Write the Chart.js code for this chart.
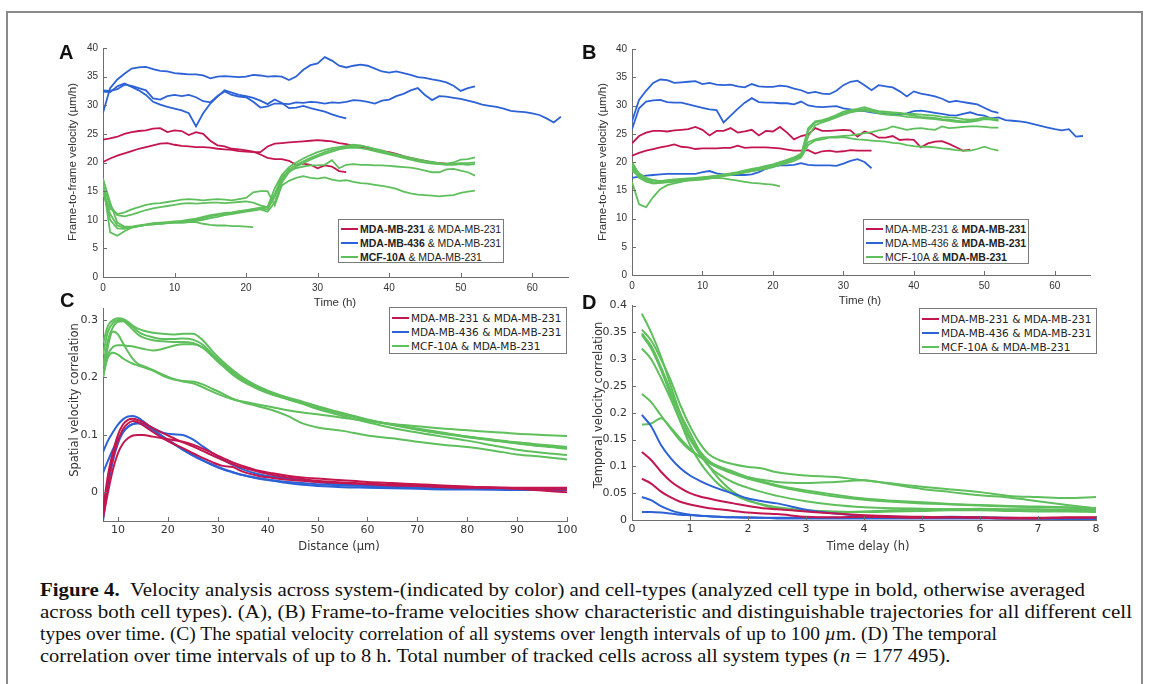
<!DOCTYPE html>
<html><head><meta charset="utf-8">
<script src="https://cdn.jsdelivr.net/npm/chart.js@4/dist/chart.umd.min.js"></script>
<style>
html,body{margin:0;padding:0;background:#fff}
body{width:1149px;height:684px;overflow:hidden;position:relative;font-family:"Liberation Sans",Arial,sans-serif;color:#222}
.frame{position:absolute;left:6px;top:11px;width:1133px;height:700px;border:2px solid #8a8a8a}
canvas{position:absolute}
.abs{position:absolute;white-space:nowrap}
.letter{font:bold 20px/20px "Liberation Sans",Arial,sans-serif;color:#111}
.yt{position:absolute;white-space:nowrap;transform:translate(-50%,-50%) rotate(-90deg)}
.xt{position:absolute;white-space:nowrap;transform:translate(-50%,-50%)}
.ab{font:11.5px "Liberation Sans",Arial,sans-serif;color:#333}
.cd{font:11.5px "DejaVu Sans",sans-serif;color:#333}
.leg{position:absolute;border:1px solid #7a7a7a;background:#fff;box-sizing:border-box}
.leg .row{position:absolute;left:0;white-space:nowrap;display:flex;align-items:center}
.leg .sw{display:inline-block;height:2px;margin-right:2px}
.cap{position:absolute;left:40px;white-space:nowrap;font:19px/22px "Liberation Serif","Times New Roman",serif;color:#111;transform-origin:0 50%}
</style></head>
<body>
<div class="frame"></div>

<canvas id="cA"></canvas><canvas id="cB"></canvas><canvas id="cC"></canvas><canvas id="cD"></canvas>

<div class="abs letter" style="left:59px;top:42px">A</div>
<div class="abs letter" style="left:582px;top:42px">B</div>
<div class="abs letter" style="left:60px;top:290px">C</div>
<div class="abs letter" style="left:582px;top:292px">D</div>

<div class="yt ab" style="left:72px;top:162px">Frame-to-frame velocity (µm/h)</div>
<div class="xt ab" style="left:335px;top:302px">Time (h)</div>
<div class="yt ab" style="left:602px;top:162px">Frame-to-frame velocity (µm/h)</div>
<div class="xt ab" style="left:860px;top:300px">Time (h)</div>
<div class="yt cd" style="left:74px;top:400px">Spatial velocity correlation</div>
<div class="xt cd" style="left:339px;top:546px">Distance (µm)</div>
<div class="yt cd" style="left:598px;top:405px">Temporal velocity correlation</div>
<div class="xt cd" style="left:868px;top:546px">Time delay (h)</div>

<div class="leg" style="left:338px;top:219px;width:166px;height:44px;font:10.5px 'Liberation Sans',Arial,sans-serif;color:#222">
 <div class="row" style="top:3px;left:2px"><span class="sw" style="width:17px;background:#c4164e"></span><b>MDA-MB-231</b>&nbsp;&amp; MDA-MB-231</div>
 <div class="row" style="top:17px;left:2px"><span class="sw" style="width:17px;background:#2c62d6"></span><b>MDA-MB-436</b>&nbsp;&amp; MDA-MB-231</div>
 <div class="row" style="top:31px;left:2px"><span class="sw" style="width:17px;background:#5fbf5c"></span><b>MCF-10A</b>&nbsp;&amp; MDA-MB-231</div>
</div>
<div class="leg" style="left:863px;top:219px;width:166px;height:45px;font:10.5px 'Liberation Sans',Arial,sans-serif;color:#222">
 <div class="row" style="top:3px;left:2px"><span class="sw" style="width:17px;background:#c4164e"></span>MDA-MB-231 &amp;&nbsp;<b>MDA-MB-231</b></div>
 <div class="row" style="top:17px;left:2px"><span class="sw" style="width:17px;background:#2c62d6"></span>MDA-MB-436 &amp;&nbsp;<b>MDA-MB-231</b></div>
 <div class="row" style="top:31px;left:2px"><span class="sw" style="width:17px;background:#5fbf5c"></span>MCF-10A &amp;&nbsp;<b>MDA-MB-231</b></div>
</div>
<div class="leg" style="left:389px;top:307px;width:178px;height:47px;font:10.5px 'DejaVu Sans',sans-serif;color:#222">
 <div class="row" style="top:4px;left:2px"><span class="sw" style="width:17px;background:#c4164e"></span>MDA-MB-231 &amp; MDA-MB-231</div>
 <div class="row" style="top:18px;left:2px"><span class="sw" style="width:17px;background:#2c62d6"></span>MDA-MB-436 &amp; MDA-MB-231</div>
 <div class="row" style="top:32px;left:2px"><span class="sw" style="width:17px;background:#5fbf5c"></span>MCF-10A &amp; MDA-MB-231</div>
</div>
<div class="leg" style="left:919px;top:308px;width:178px;height:46px;font:10.5px 'DejaVu Sans',sans-serif;color:#222">
 <div class="row" style="top:4px;left:2px"><span class="sw" style="width:17px;background:#c4164e"></span>MDA-MB-231 &amp; MDA-MB-231</div>
 <div class="row" style="top:18px;left:2px"><span class="sw" style="width:17px;background:#2c62d6"></span>MDA-MB-436 &amp; MDA-MB-231</div>
 <div class="row" style="top:32px;left:2px"><span class="sw" style="width:17px;background:#5fbf5c"></span>MCF-10A &amp; MDA-MB-231</div>
</div>

<div class="cap" data-w="1045" style="top:579px"><b>Figure 4.</b>&nbsp;&nbsp;Velocity analysis across system-(indicated by color) and cell-types (analyzed cell type in bold, otherwise averaged</div>
<div class="cap" data-w="1092" style="top:601px">across both cell types). (A), (B) Frame-to-frame velocities show characteristic and distinguishable trajectories for all different cell</div>
<div class="cap" data-w="957" style="top:623px">types over time. (C) The spatial velocity correlation of all systems over length intervals of up to 100 <i>µ</i>m. (D) The temporal</div>
<div class="cap" style="top:645px">correlation over time intervals of up to 8 h. Total number of tracked cells across all system types (<i>n</i> = 177 495).</div>

<script>
// ---------- DATA ----------
const hours = Array.from({length: 65}, (_, i) => i); // sampling grid (h)

// Panel A (analysed cell type in bold; values at whole hours)
const redA1 = [24.0,24.2,24.5,25.0,25.3,25.5,25.6,25.9,26.0,25.3,25.6,25.5,24.8,25.3,25.0,23.8,23.0,22.8,22.4,22.3,22.1,21.9,21.4,20.8,20.6,20.6,20.3,19.6,19.8,19.6,19.0,19.5,19.3,18.5,18.3];
const redA2 = [20.1,20.7,21.2,21.6,22.0,22.4,22.7,23.0,23.3,23.4,23.1,22.9,22.8,22.7,22.7,22.6,22.4,22.3,22.2,22.0,21.9,21.8,21.8,22.8,23.3,23.4,23.5,23.6,23.7,23.8,23.9,23.8,23.7,23.4,23.2,22.9,22.7,22.5,22.2,22.0,21.8,21.5,21.1,20.8,20.5,20.3,20.0,19.9,19.8];
const blueA1 = [28.7,33.0,34.5,35.5,36.4,36.6,36.7,36.3,36.0,35.9,35.6,35.5,35.4,35.4,35.2,34.7,35.0,35.1,35.0,34.9,35.0,35.3,35.2,35.0,35.1,35.0,34.4,35.0,36.2,37.0,37.3,38.4,37.8,36.9,36.6,36.9,37.1,36.9,36.4,35.9,35.7,35.9,35.6,35.3,34.9,34.8,34.5,34.3,34.0,33.4,32.5,33.0,33.3];
const blueA2 = [32.6,32.5,32.8,33.6,33.4,33.0,32.6,31.2,31.0,31.6,31.8,31.6,31.8,31.4,30.7,30.5,31.6,32.4,31.8,31.5,31.4,30.6,29.6,29.8,30.3,30.3,30.2,30.5,30.4,30.6,30.5,30.3,30.5,30.4,30.6,30.9,30.8,30.6,30.3,30.8,31.0,31.6,32.0,32.6,33.0,31.8,30.9,31.6,31.5,31.3,31.1,30.8,30.5,30.1,29.9,29.7,29.4,29.0,28.9,28.8,28.6,28.3,27.7,27.0,28.0];
const blueA3 = [32.4,32.3,33.3,33.8,33.2,32.6,31.8,30.6,30.1,29.7,29.4,29.1,28.6,26.3,28.6,30.3,31.5,32.6,32.2,31.8,31.6,31.3,30.8,30.2,31.0,30.4,29.5,29.6,29.9,29.5,29.2,28.9,28.4,28.0,27.7];
const greenA1 = [15.5,11.0,9.0,8.6,8.7,8.9,9.1,9.2,9.3,9.4,9.5,9.5,9.6,9.6,9.3,9.1,9.0,9.0,8.9,8.9,8.8,8.7];
const greenA2 = [14.5,12.0,11.0,11.3,11.8,12.2,12.6,12.8,12.9,13.1,13.3,13.5,13.6,13.5,13.4,13.5,13.6,13.5,13.4,13.6,13.8,14.8,15.0,15.0,12.5,16.0,16.8,17.3,17.6,17.3,17.2,17.4,17.0,16.8,16.9,16.6,16.4,16.3,16.1,15.9,15.7,15.4,14.9,14.6,14.4,14.3,14.2,14.1,14.2,14.3,14.7,14.9,15.1];
const greenA3 = [16.0,12.5,10.8,10.6,10.9,11.3,11.7,12.0,12.2,12.4,12.6,12.8,12.9,12.8,12.9,13.0,13.0,12.9,13.0,13.1,13.2,13.0,12.5,12.2,14.5,17.5,18.5,19.0,19.3,19.5,19.5,19.6,20.4,19.0,19.6,19.7,19.6,19.6,19.5,19.5,19.4,19.3,19.2,19.1,18.9,18.6,18.3,18.3,18.8,18.9,18.6,18.3,17.7];
const greenA4 = [17.2,13.0,9.5,8.8,8.8,9.0,9.2,9.4,9.5,9.6,9.7,9.8,10.0,10.2,10.5,10.8,11.0,11.2,11.3,11.5,11.7,11.9,12.1,12.2,15.5,17.8,19.2,20.0,20.7,21.3,21.8,22.2,22.5,22.7,22.9,23.1,23.0,22.7,22.4,22.1,21.7,21.4,21.1,20.8,20.6,20.3,20.1,19.9,19.8,20.0,20.5,20.6,20.9];
const greenA5 = [15.0,10.0,8.5,8.4,8.7,8.9,9.1,9.3,9.4,9.5,9.6,9.7,9.8,10.0,10.3,10.6,10.8,11.0,11.2,11.4,11.6,11.8,12.0,11.8,14.0,17.0,18.8,19.6,20.2,20.8,21.3,21.8,22.2,22.5,22.7,22.8,22.9,22.7,22.3,21.9,21.6,21.3,20.9,20.6,20.3,20.1,19.9,19.8,19.7,19.8,19.9,19.9,20.0];
const greenA6 = [16.5,7.8,7.2,8.0,8.6,8.9,9.1,9.2,9.3,9.4,9.5,9.5,9.6,9.8,10.0,10.3,10.5,10.8,11.0,11.2,11.4,11.6,11.8,11.4,13.0,16.5,18.3,19.3,19.9,20.5,21.0,21.5,21.9,22.3,22.5,22.6,22.5,22.3,22.0,21.7,21.4,21.1,20.8,20.5,20.2,20.0,19.8,19.7,19.6,19.6,19.7,19.6,19.7];

// Panel B (MDA-MB-231 analysed)
const redB1 = [23.3,24.6,25.2,25.5,25.5,25.4,25.6,25.7,25.8,26.2,25.7,24.7,25.5,25.5,26.0,25.2,25.4,25.7,24.7,25.5,25.4,26.2,25.2,24.0,24.6,24.9,26.0,25.5,25.5,25.6,25.7,25.6,24.5,25.4,25.0,24.3,24.3,24.6,23.9,24.0,23.9,22.6,23.3,23.6,23.7,23.2,22.6,22.0,22.2];
const redB2 = [21.1,21.6,22.0,22.3,22.6,22.8,23.1,22.7,22.6,22.3,22.4,22.4,22.4,22.5,22.5,22.9,22.5,22.6,22.6,22.6,22.5,22.4,22.2,22.0,22.0,22.1,21.5,21.9,22.0,21.8,21.9,22.1,22.0,22.0,22.0];
const blueB1 = [27.2,31.0,32.6,34.0,34.6,34.5,34.0,34.1,34.2,34.3,33.8,34.0,33.7,33.6,33.7,33.4,33.2,33.8,33.4,33.3,33.3,33.5,33.4,33.0,32.7,32.2,32.4,32.1,32.0,32.6,33.6,34.2,34.4,33.6,32.7,33.6,33.4,33.2,32.5,31.6,32.5,32.1,31.9,31.6,31.2,30.6,30.8,30.6,30.4,30.2,29.6,29.0,28.7];
const blueB2 = [25.8,29.5,30.7,30.9,31.0,30.6,30.5,30.5,30.2,29.9,29.6,29.3,29.2,27.0,28.2,29.4,30.5,31.3,30.6,30.5,30.5,30.4,30.4,30.2,30.7,30.0,29.8,29.7,29.8,29.9,29.5,29.3,29.1,29.0,28.8,28.6,28.5,28.4,28.4,28.6,29.0,29.1,28.9,28.7,28.5,28.3,28.2,28.5,28.8,28.4,28.2,27.7,27.9,27.4,27.3,27.2,27.0,26.7,26.4,26.1,25.8,25.6,25.8,24.5,24.6];
const blueB3 = [17.2,17.4,17.6,17.7,17.8,17.9,17.9,17.9,17.9,17.9,18.2,18.4,18.0,17.8,17.7,17.7,17.7,17.8,18.2,18.8,19.2,19.4,19.4,19.5,19.8,19.5,19.4,19.4,19.4,19.3,19.7,20.2,20.5,20.0,18.9];
const greenB1 = [19.2,17.8,17.0,16.8,16.6,16.5,16.6,16.7,16.8,16.9,17.0,17.1,17.2,17.1,16.9,16.7,16.5,16.3,16.2,16.1,16.0,15.7];
const greenB2 = [16.5,12.5,12.0,13.8,15.2,15.9,16.2,16.5,16.8,17.0,17.2,17.4,17.6,17.8,18.0,18.2,18.5,18.8,19.0,19.3,19.6,20.0,20.4,20.8,21.3,26.0,27.2,27.4,27.8,28.3,28.9,29.2,29.4,29.7,29.3,29.0,28.9,28.8,28.7,28.5,28.5,28.4,28.3,28.2,28.0,27.9,27.8,27.6,27.5,27.6,27.8,27.6,27.4];
const greenB3 = [19.5,18.0,17.2,16.8,16.6,16.7,16.8,16.9,16.9,17.0,17.0,17.2,17.4,17.6,17.8,18.0,18.3,18.6,18.8,19.1,19.4,19.8,20.2,20.6,21.2,25.5,27.0,27.3,27.6,28.1,28.6,29.0,29.2,29.4,29.1,28.9,28.7,28.6,28.6,28.4,28.2,28.0,27.9,27.8,27.6,27.5,27.3,27.2,27.3,27.6,27.9,27.7,27.5];
const greenB4 = [18.5,17.5,16.8,16.4,16.3,16.4,16.5,16.6,16.7,16.8,16.9,17.1,17.3,17.5,17.7,17.9,18.1,18.4,18.6,18.9,19.2,19.6,20.0,20.5,21.0,24.5,26.5,27.0,27.4,27.9,28.4,28.8,29.0,29.1,28.9,28.6,28.4,28.3,28.2,28.0,27.9,27.8,27.7,27.6,27.4,27.3,27.1,27.0,27.1,27.3,27.6,27.5,27.3];
const greenB5 = [19.0,17.2,16.5,16.2,16.3,16.5,16.6,16.7,16.8,16.9,17.1,17.3,17.5,17.7,17.9,18.1,18.4,18.7,18.9,19.2,19.5,19.9,20.3,20.8,21.5,23.5,24.0,24.3,24.4,24.5,24.6,24.7,24.9,25.1,25.3,25.6,25.8,26.3,26.0,25.7,25.9,26.0,25.8,25.7,26.3,26.0,26.1,26.2,26.3,26.3,26.2,26.1,26.1];
const greenB6 = [20.0,17.8,17.0,16.7,16.6,16.8,16.9,17.0,17.1,17.2,17.3,17.4,17.5,17.6,17.8,18.0,18.2,18.4,18.6,18.8,19.1,19.5,19.8,20.2,20.8,23.0,23.8,24.0,24.3,24.3,24.4,24.2,24.0,23.9,23.8,23.7,23.6,23.4,23.3,23.0,22.8,22.7,22.7,22.6,22.4,22.3,22.1,22.0,22.0,22.3,22.7,22.3,22.0];

// Panel C (distance in µm)
const distC = [7,8,9,10,11,12,13,14,15,17,19,21,23,25,27,29,31,33,35,38,41,44,47,50,55,60,65,70,75,80,85,90,95,100];
const greenC1 = [0.26,0.29,0.3,0.303,0.302,0.297,0.29,0.285,0.282,0.278,0.276,0.275,0.276,0.276,0.265,0.245,0.228,0.213,0.2,0.185,0.174,0.165,0.158,0.15,0.138,0.127,0.118,0.111,0.104,0.097,0.092,0.087,0.083,0.079];
const greenC2 = [0.24,0.28,0.295,0.3,0.3,0.295,0.288,0.28,0.275,0.27,0.267,0.267,0.268,0.266,0.257,0.24,0.224,0.21,0.198,0.183,0.172,0.163,0.155,0.147,0.136,0.126,0.117,0.109,0.102,0.096,0.09,0.085,0.08,0.076];
const greenC3 = [0.22,0.265,0.288,0.297,0.298,0.292,0.283,0.275,0.27,0.265,0.263,0.262,0.262,0.26,0.252,0.236,0.22,0.205,0.193,0.18,0.17,0.162,0.154,0.145,0.133,0.122,0.112,0.104,0.097,0.09,0.082,0.074,0.069,0.065];
const greenC4 = [0.2,0.24,0.253,0.256,0.256,0.255,0.254,0.252,0.25,0.247,0.25,0.255,0.258,0.258,0.252,0.237,0.222,0.208,0.196,0.182,0.171,0.163,0.156,0.148,0.137,0.126,0.118,0.11,0.103,0.097,0.091,0.086,0.081,0.077];
const greenC5 = [0.2,0.255,0.28,0.275,0.26,0.245,0.232,0.224,0.22,0.213,0.205,0.198,0.193,0.19,0.183,0.175,0.168,0.162,0.158,0.153,0.148,0.143,0.139,0.136,0.13,0.124,0.119,0.115,0.111,0.108,0.105,0.102,0.1,0.098];
const greenC6 = [0.205,0.235,0.243,0.24,0.233,0.228,0.224,0.221,0.218,0.212,0.203,0.197,0.194,0.193,0.188,0.18,0.172,0.163,0.157,0.15,0.143,0.133,0.12,0.113,0.107,0.099,0.094,0.088,0.083,0.079,0.073,0.066,0.062,0.057];
const redC1 = [-0.03,0.03,0.07,0.1,0.118,0.126,0.128,0.126,0.122,0.112,0.103,0.095,0.087,0.08,0.072,0.064,0.056,0.049,0.043,0.036,0.03,0.026,0.023,0.02,0.017,0.015,0.013,0.012,0.01,0.009,0.009,0.008,0.008,0.008];
const redC2 = [-0.045,0.0,0.04,0.068,0.085,0.094,0.099,0.1,0.1,0.097,0.094,0.091,0.088,0.083,0.076,0.068,0.06,0.052,0.046,0.038,0.033,0.029,0.026,0.024,0.021,0.018,0.016,0.014,0.012,0.01,0.008,0.006,0.003,0.0];
const redC3 = [-0.04,0.02,0.06,0.09,0.11,0.12,0.124,0.122,0.117,0.105,0.094,0.085,0.077,0.068,0.06,0.052,0.046,0.044,0.036,0.029,0.025,0.022,0.02,0.018,0.016,0.014,0.012,0.011,0.009,0.008,0.008,0.007,0.006,0.005];
const blueC1 = [0.07,0.09,0.105,0.118,0.127,0.132,0.133,0.13,0.124,0.11,0.097,0.085,0.074,0.064,0.055,0.047,0.04,0.035,0.03,0.025,0.021,0.018,0.016,0.014,0.012,0.011,0.01,0.009,0.008,0.007,0.007,0.006,0.006,0.006];
const blueC2 = [0.034,0.055,0.075,0.092,0.105,0.114,0.119,0.121,0.12,0.112,0.104,0.101,0.1,0.092,0.08,0.068,0.057,0.048,0.04,0.032,0.027,0.024,0.021,0.018,0.014,0.011,0.009,0.008,0.007,0.006,0.005,0.004,0.004,0.004];
const blueC3 = [-0.05,0.01,0.055,0.085,0.104,0.114,0.119,0.12,0.118,0.108,0.097,0.086,0.075,0.065,0.056,0.048,0.041,0.035,0.03,0.024,0.02,0.016,0.013,0.011,0.009,0.008,0.007,0.006,0.005,0.005,0.005,0.005,0.005,0.005];

// Panel D (time delay in h)
const timeD = [0.17,0.33,0.5,0.67,0.83,1,1.17,1.33,1.5,1.75,2,2.25,2.5,3,3.5,4,4.5,5,5.5,6,6.5,7,7.5,8];
const greenD1 = [0.385,0.35,0.305,0.25,0.2,0.163,0.128,0.1,0.077,0.052,0.037,0.028,0.022,0.017,0.015,0.016,0.018,0.02,0.02,0.021,0.02,0.02,0.019,0.018];
const greenD2 = [0.355,0.335,0.3,0.26,0.215,0.175,0.143,0.122,0.112,0.104,0.099,0.096,0.089,0.083,0.08,0.074,0.068,0.062,0.057,0.052,0.045,0.043,0.041,0.043];
const greenD3 = [0.348,0.325,0.285,0.24,0.195,0.155,0.128,0.11,0.098,0.087,0.08,0.075,0.071,0.069,0.071,0.074,0.066,0.058,0.052,0.046,0.042,0.035,0.028,0.022];
const greenD4 = [0.345,0.32,0.28,0.232,0.185,0.14,0.108,0.085,0.066,0.048,0.036,0.029,0.024,0.018,0.016,0.015,0.016,0.017,0.018,0.018,0.017,0.016,0.016,0.015];
const greenD5 = [0.32,0.3,0.265,0.225,0.185,0.15,0.122,0.1,0.085,0.07,0.06,0.052,0.045,0.035,0.028,0.024,0.022,0.021,0.02,0.02,0.019,0.019,0.018,0.018];
const greenD6 = [0.235,0.22,0.195,0.17,0.148,0.13,0.118,0.108,0.1,0.09,0.08,0.072,0.065,0.055,0.047,0.04,0.036,0.033,0.03,0.028,0.026,0.025,0.024,0.022];
const greenD7 = [0.178,0.18,0.19,0.172,0.152,0.133,0.118,0.106,0.097,0.086,0.077,0.07,0.063,0.052,0.044,0.038,0.034,0.031,0.029,0.027,0.025,0.024,0.023,0.021];
const redD1 = [0.127,0.112,0.09,0.072,0.06,0.05,0.044,0.04,0.036,0.031,0.026,0.022,0.02,0.016,0.012,0.009,0.007,0.006,0.005,0.005,0.004,0.004,0.005,0.005];
const redD2 = [0.077,0.068,0.053,0.042,0.034,0.029,0.025,0.022,0.02,0.017,0.014,0.012,0.011,0.006,0.005,0.006,0.005,0.004,0.005,0.004,0.003,0.003,0.004,0.004];
const blueD1 = [0.196,0.175,0.14,0.115,0.097,0.083,0.073,0.065,0.058,0.049,0.04,0.035,0.031,0.019,0.012,0.008,0.006,0.005,0.005,0.004,0.003,0.003,0.003,0.003];
const blueD2 = [0.043,0.037,0.026,0.018,0.013,0.01,0.008,0.007,0.006,0.005,0.005,0.004,0.004,0.004,0.004,0.004,0.004,0.005,0.006,0.005,0.004,0.003,0.003,0.003];
const blueD3 = [0.015,0.015,0.014,0.012,0.01,0.009,0.008,0.007,0.006,0.005,0.004,0.004,0.003,0.003,0.003,0.003,0.003,0.003,0.003,0.003,0.003,0.003,0.002,0.002];

// Tick values
const ticksTime = [0,10,20,30,40,50,60];
const ticksVel = [0,5,10,15,20,25,30,35,40];
const ticksDist = [10,20,30,40,50,60,70,80,90,100];
const ticksSpatial = [0,0.1,0.2,0.3];
const ticksDelay = [0,1,2,3,4,5,6,7,8];
const ticksTemporal = [0,0.05,0.1,0.15,0.2,0.25,0.3,0.35,0.4];

// ---------- RENDER ----------
const RED = '#c4164e', BLUE = '#2c62d6', GREEN = '#5fbf5c';
const AXIS = '#6e6e6e', TICK = '#333';

function pts(xs, ys) { return ys.map((y, i) => ({x: xs[i], y: y})); }
function line(xs, ys, color, w, smooth) {
  return {data: pts(xs, ys), borderColor: color, borderWidth: w, pointRadius: 0, fill: false,
          tension: smooth ? 0.4 : 0, cubicInterpolationMode: smooth ? 'monotone' : 'default'};
}

const insideTicks = {
  id: 'insideTicks',
  afterDraw(chart) {
    const {ctx, chartArea: a, scales: {x, y}} = chart;
    ctx.save(); ctx.strokeStyle = AXIS; ctx.lineWidth = 1; ctx.beginPath();
    x.ticks.forEach(t => { const px = Math.round(x.getPixelForValue(t.value)) + 0.5; ctx.moveTo(px, a.bottom); ctx.lineTo(px, a.bottom - 4); });
    y.ticks.forEach(t => { const py = Math.round(y.getPixelForValue(t.value)) + 0.5; ctx.moveTo(a.left, py); ctx.lineTo(a.left + 4, py); });
    ctx.stroke(); ctx.restore();
  }
};

function fmt(v) { return String(Math.round(v * 1000) / 1000); }

function makePanel(id, area, xr, yr, xt, yt, datasets, font, xpad) {
  const W = 50, H = 26, PT = 10, PR = 18;
  const cv = document.getElementById(id);
  const w = Math.round(area.r - area.l) + W + PR, h = Math.round(area.b - area.t) + H + PT;
  cv.width = w; cv.height = h;
  cv.style.width = w + 'px'; cv.style.height = h + 'px';
  cv.style.left = (area.l - W) + 'px'; cv.style.top = (area.t - PT) + 'px';
  new Chart(cv, {
    type: 'line',
    data: {datasets},
    options: {
      responsive: false, animation: false, devicePixelRatio: 1,
      layout: {padding: {top: PT, right: PR, left: 0, bottom: 0}},
      plugins: {legend: {display: false}, tooltip: {enabled: false}},
      scales: {
        x: {type: 'linear', min: xr[0], max: xr[1], grid: {display: false, drawTicks: false},
            border: {display: true, color: AXIS, width: 1},
            ticks: {font: font, color: TICK, padding: xpad, maxRotation: 0, autoSkip: false, callback: v => fmt(v)},
            afterBuildTicks: s => { s.ticks = xt.map(v => ({value: v})); },
            afterFit: s => { s.height = H; }},
        y: {type: 'linear', min: yr[0], max: yr[1], grid: {display: false, drawTicks: false},
            border: {display: true, color: AXIS, width: 1},
            ticks: {font: font, color: TICK, padding: 5, autoSkip: false, callback: v => fmt(v)},
            afterBuildTicks: s => { s.ticks = yt.map(v => ({value: v})); },
            afterFit: s => { s.width = W; }}
      }
    },
    plugins: [insideTicks]
  });
}

const fAB = {family: 'Liberation Sans', size: 10};
const fCD = {family: 'DejaVu Sans', size: 11};
const LW = 1.8;

makePanel('cA', {l: 103, r: 568, t: 47, b: 277}, [0, 65], [0, 40], ticksTime, ticksVel, [
  line(hours, greenA1, GREEN, LW), line(hours, greenA2, GREEN, LW), line(hours, greenA3, GREEN, LW),
  line(hours, greenA4, GREEN, LW), line(hours, greenA5, GREEN, LW), line(hours, greenA6, GREEN, LW),
  line(hours, redA1, RED, LW), line(hours, redA2, RED, LW),
  line(hours, blueA1, BLUE, LW), line(hours, blueA2, BLUE, LW), line(hours, blueA3, BLUE, LW)
], fAB, 5);

makePanel('cB', {l: 632, r: 1090, t: 48, b: 275}, [0, 65], [0, 40], ticksTime, ticksVel, [
  line(hours, greenB1, GREEN, LW), line(hours, greenB2, GREEN, LW), line(hours, greenB3, GREEN, LW),
  line(hours, greenB4, GREEN, LW), line(hours, greenB5, GREEN, LW), line(hours, greenB6, GREEN, LW),
  line(hours, redB1, RED, LW), line(hours, redB2, RED, LW),
  line(hours, blueB1, BLUE, LW), line(hours, blueB2, BLUE, LW), line(hours, blueB3, BLUE, LW)
], fAB, 5);

makePanel('cC', {l: 103, r: 567, t: 306.5, b: 520}, [7, 100], [-0.05, 0.32], ticksDist, ticksSpatial, [
  line(distC, redC1, RED, 2, true), line(distC, redC2, RED, 2, true), line(distC, redC3, RED, 2, true),
  line(distC, blueC1, BLUE, 2, true), line(distC, blueC2, BLUE, 2, true), line(distC, blueC3, BLUE, 2, true),
  line(distC, greenC1, GREEN, 2, true), line(distC, greenC2, GREEN, 2, true), line(distC, greenC3, GREEN, 2, true),
  line(distC, greenC4, GREEN, 2, true), line(distC, greenC5, GREEN, 2, true), line(distC, greenC6, GREEN, 2, true)
], fCD, 3);

makePanel('cD', {l: 632, r: 1096, t: 304, b: 520}, [0, 8], [0, 0.4], ticksDelay, ticksTemporal, [
  line(timeD, redD1, RED, 2, true), line(timeD, redD2, RED, 2, true),
  line(timeD, blueD1, BLUE, 2, true), line(timeD, blueD2, BLUE, 2, true), line(timeD, blueD3, BLUE, 2, true),
  line(timeD, greenD1, GREEN, 2, true), line(timeD, greenD2, GREEN, 2, true), line(timeD, greenD3, GREEN, 2, true),
  line(timeD, greenD4, GREEN, 2, true), line(timeD, greenD5, GREEN, 2, true), line(timeD, greenD6, GREEN, 2, true),
  line(timeD, greenD7, GREEN, 2, true)
], fCD, 3);

// fit caption lines 1-3 to their measured widths; line 4 uses the mean scale
const caps = [...document.querySelectorAll('.cap')];
const scales = [];
caps.forEach(el => {
  if (!el.dataset.w) return;
  const s = (+el.dataset.w) / el.getBoundingClientRect().width;
  scales.push(s);
  el.style.transform = 'scaleX(' + s.toFixed(4) + ')';
});
const meanS = scales.reduce((a, b) => a + b, 0) / scales.length;
caps.forEach(el => { if (!el.dataset.w) el.style.transform = 'scaleX(' + meanS.toFixed(4) + ')'; });
</script>
</body></html>
